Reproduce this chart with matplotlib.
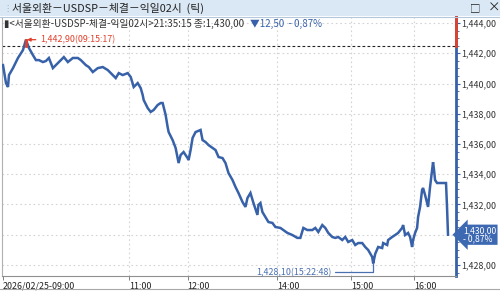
import matplotlib
matplotlib.use('Agg')
import matplotlib.pyplot as plt
from matplotlib.patches import Rectangle
from matplotlib.lines import Line2D
from matplotlib.ticker import MultipleLocator, FuncFormatter

plt.rcParams['font.family'] = ['Noto Sans CJK KR', 'DejaVu Sans']

# chart texts and summary numbers
title = '서울외환－USDSP－체결－익일02시  (틱)'
legend_main = '▮<서울외환-USDSP-체결-익일02시>21:35:15 종:1,430,00'
prev_close = 1442.50
last_price = 1430.00
change = -12.50
change_pct = -0.87
high_price, high_time = 1442.90, '09:15:17'
low_price, low_time = 1428.10, '15:22:48'

# tick sequence (x) and traded price (y)
tick_seq = [2, 5, 7, 8, 12, 17, 22, 25, 28, 32, 35, 38, 42, 45, 48, 52, 55, 60, 63, 67,
            72, 77, 80, 85, 88, 92, 97, 102, 107, 112, 115, 118, 122, 127, 130, 133, 137,
            140, 142, 143, 147, 150, 153, 157, 160, 162, 163, 165, 167, 168, 172, 175, 178,
            180, 183, 187, 188, 190, 192, 195, 200, 202, 205, 208, 212, 215, 218, 222, 225,
            228, 232, 235, 238, 242, 245, 247, 250, 253, 257, 258, 260, 262, 265, 268, 272,
            275, 280, 283, 287, 292, 297, 300, 303, 307, 312, 315, 318, 322, 325, 328, 332,
            335, 338, 342, 345, 348, 352, 355, 358, 362, 365, 368, 372, 373, 375, 378, 382,
            383, 387, 388, 392, 395, 398, 402, 403, 405, 408, 410, 412, 413, 415, 417, 418,
            420, 422, 423, 425, 427, 428, 430, 432, 433, 434, 435, 437, 440, 445, 446, 447, 448]
price = [1441.22, 1440.03, 1439.77, 1440.56, 1441.02, 1441.69, 1442.21, 1442.90, 1442.35, 1441.88,
         1441.55, 1441.55, 1441.42, 1441.49, 1441.69, 1441.02, 1441.22, 1441.55, 1441.75, 1441.42,
         1441.69, 1441.69, 1441.55, 1441.22, 1441.09, 1440.76, 1441.02, 1441.09, 1440.89, 1440.56,
         1440.36, 1440.69, 1440.56, 1440.69, 1440.43, 1439.77, 1440.03, 1439.70, 1439.24, 1438.91,
         1438.38, 1438.12, 1438.25, 1438.58, 1438.71, 1438.71, 1438.45, 1437.92, 1437.12, 1436.79,
         1436.26, 1435.74, 1434.74, 1435.27, 1435.47, 1435.07, 1434.94, 1435.60, 1436.40, 1436.79,
         1436.93, 1436.26, 1436.13, 1435.93, 1435.74, 1435.60, 1435.14, 1435.07, 1434.74, 1434.08,
         1433.62, 1433.16, 1432.76, 1432.17, 1431.84, 1432.43, 1432.76, 1432.10, 1431.31, 1431.97,
         1432.10, 1431.50, 1431.17, 1430.84, 1430.78, 1430.51, 1430.45, 1430.31, 1430.12, 1429.98,
         1429.79, 1429.79, 1430.45, 1430.31, 1430.31, 1430.45, 1430.18, 1430.64, 1430.45, 1430.12,
         1429.85, 1429.79, 1429.85, 1429.65, 1429.85, 1429.52, 1429.65, 1429.32, 1429.45, 1429.45,
         1429.19, 1428.99, 1428.53, 1428.10, 1428.73, 1429.19, 1429.12, 1429.45, 1429.32, 1429.65,
         1429.85, 1429.98, 1430.12, 1430.45, 1430.64, 1429.98, 1430.12, 1429.85, 1429.19, 1429.65,
         1430.12, 1430.45, 1431.17, 1431.84, 1432.96, 1433.09, 1432.63, 1432.10, 1431.84, 1433.16,
         1434.28, 1434.80, 1434.28, 1433.62, 1433.42, 1433.42, 1433.42, 1433.42, 1431.84, 1430.00]

time_ticks = [2, 128, 187, 277, 351, 414]
time_labels = ['2026/02/25-09:00', '11:00', '12:00', '14:00', '15:00', '16:00']
seq_range = (1, 456)
price_ticks = list(range(1428, 1445, 2))

BLUE = '#3761a8'
RED = '#e0402c'
GRID = '#d4d4d4'


def kfmt(v):
    # korean HTS style: comma used as decimal mark as well
    return '{:,.2f}'.format(v).replace('.', ',')


def axis_label(v, p):
    # the last-price box sits on top of this label in the reference
    if abs(v - last_price) < 1e-6:
        return ''
    return kfmt(v)


fig = plt.figure(figsize=(5, 2.92), dpi=100)
W, H = 500.0, 292.0

# header bar
fig.patches.append(Rectangle((0, 1 - 16 / H), 1, 16 / H, transform=fig.transFigure,
                             fc='#dae7f4', ec='none', zorder=0))
fig.add_artist(Line2D([0, 1], [1 - 16.5 / H] * 2, color='#b4c8dd', lw=0.8))
fig.text(3 / W, 1 - 8 / H, '⋮', fontsize=6, color='#9ab', va='center')
fig.text(12 / W, 1 - 8 / H, title, fontsize=7.8, color='#222', va='center')
fig.text(470 / W, 1 - 8 / H, '□', fontsize=7.5, color='#222', va='center')
fig.text(488 / W, 1 - 8 / H, '×', fontsize=9, color='#222', va='center')

ax = fig.add_axes([2 / W, 16 / H, 454 / W, 259 / H])
ax.plot(tick_seq, price, color=BLUE, lw=1.8, solid_joinstyle='miter', zorder=3)

ax.set_xlim(*seq_range)
ax.set_ylim(1427.27, 1444.40)

# dotted grid
for v in price_ticks:
    ax.axhline(v, color=GRID, lw=0.8, ls=(0, (1.5, 2.5)), zorder=1)
for t in time_ticks[1:]:
    ax.axvline(t, color=GRID, lw=0.8, ls=(0, (1.5, 2.5)), zorder=1)

# previous close
ax.axhline(prev_close, color='#222', lw=0.8, ls=(0, (2.5, 2)), zorder=2)

# spines
ax.spines['top'].set_visible(False)
ax.spines['left'].set_color('#b0b0b0')
ax.spines['left'].set_linewidth(0.8)
ax.spines['bottom'].set_color('#909090')
ax.spines['bottom'].set_linewidth(0.8)
ax.spines['right'].set_color(BLUE)
ax.spines['right'].set_linewidth(2)
ax.plot([seq_range[1]] * 2, [prev_close, 1444.40], color=RED, lw=2, clip_on=False, zorder=5)

# right price axis
ax.yaxis.tick_right()
ax.set_yticks(price_ticks)
ax.yaxis.set_minor_locator(MultipleLocator(0.5))
ax.yaxis.set_major_formatter(FuncFormatter(axis_label))
ax.tick_params(axis='y', which='major', length=3, width=0.8, color=BLUE, pad=1,
               labelsize=6.4, labelcolor='#333')
ax.tick_params(axis='y', which='minor', length=2, width=0.6, color=BLUE)

# time axis
ax.set_xticks(time_ticks)
ax.set_xticklabels(time_labels)
for lab in ax.get_xticklabels():
    lab.set_horizontalalignment('left')
ax.tick_params(axis='x', length=3, width=0.7, color='#808080', pad=1,
               labelsize=6.4, labelcolor='#222')
fig.add_artist(Line2D([0, 1], [3 / H] * 2, color='#a8a8a8', lw=0.8))

# legend line inside the chart
fig.text(4 / W, 1 - 24 / H, legend_main, fontsize=7.0, color='#333', va='center')
fig.text(250 / W, 1 - 24 / H, '▼{}  - {}%'.format(kfmt(abs(change)), kfmt(abs(change_pct))),
         fontsize=7.0, color=BLUE, va='center')

# high / low markers
hi_x = tick_seq[price.index(high_price)]
lo_x = tick_seq[price.index(low_price)]
ax.plot([hi_x, hi_x], [prev_close, high_price], color=RED, lw=2, zorder=4)
ax.annotate('{}({})'.format(kfmt(high_price), high_time), xy=(hi_x + 1, high_price),
            xytext=(13, 0), textcoords='offset pixels', ha='left', va='center',
            fontsize=6.4, color=RED,
            arrowprops=dict(arrowstyle='-|>', color=RED, lw=0.9, shrinkA=1, shrinkB=0,
                            mutation_scale=5))
ax.annotate('{}({})'.format(kfmt(low_price), low_time), xy=(lo_x, low_price),
            xytext=(-42, -9), textcoords='offset pixels', ha='right', va='center',
            fontsize=6.4, color='#4a70b2',
            arrowprops=dict(arrowstyle='-', color='#4a70b2', lw=0.9, shrinkA=1, shrinkB=0,
                            connectionstyle='angle,angleA=0,angleB=90,rad=0'))

# last price box
ax.annotate('{}\n- {}%'.format(kfmt(last_price), kfmt(abs(change_pct))),
            xy=(1, last_price), xycoords=('axes fraction', 'data'),
            xytext=(7, 0), textcoords='offset pixels', ha='left', va='center',
            fontsize=6.2, color='white', linespacing=0.95, zorder=6, annotation_clip=False,
            bbox=dict(boxstyle='larrow,pad=0.15', fc='#3d68b2', ec='none'))

fig.savefig('out.png', dpi=100)
